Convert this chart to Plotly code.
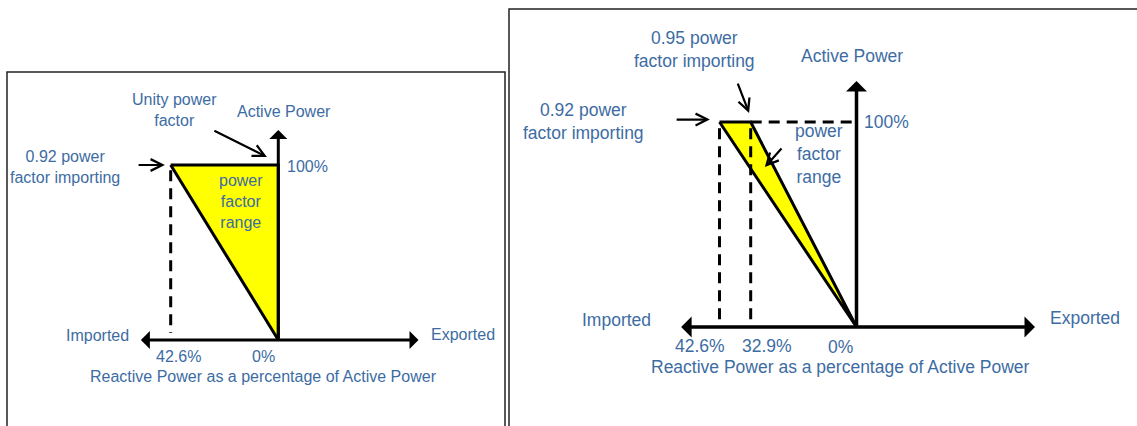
import plotly.graph_objects as go

# ---- data ----
# Left panel: unity to 0.92 power factor importing
left_tri_q = [-42.6, 0.0, 0.0]       # reactive power (% of active), negative = imported
left_tri_p = [100, 100, 0]           # active power %
left_dash_q = [-42.6]                # dashed projection lines
# Right panel: 0.95 to 0.92 power factor importing
right_tri_q = [-42.6, -32.9, 0.0]
right_tri_p = [100, 100, 0]
right_dash_q = [-42.6, -32.9]
left_ticks = ["42.6%", "0%"]
right_ticks = ["42.6%", "32.9%", "0%"]
axis_q_extent = [-55, 55.5]
axis_p_extent = 120

W, H = 1137, 426
TXT = "#3d6ca3"
FONT = "Liberation Sans, Arial, sans-serif"

fig = go.Figure()

def dom_x(p0, p1):
    return [p0 / W, min(p1 / W, 1.0)]

def dom_y(top, bottom):
    return [max((H - bottom) / H, 0.0), (H - top) / H]

# left axis: 0 at px 278.3, 2.526 px/unit ; y 0 at 340, 1.75 px/unit
Lx0, Lkx, Ly0, Lky = 278.3, 2.526, 340, 1.75
Lleft, Lright, Ltop, Lbot = 7, 505, 72, 426
# right axis
Rx0, Rkx, Ry0, Rky = 856.5, 3.216, 327, 2.05
Rleft, Rright, Rtop, Rbot = 509, 1137, 9, 426

fig.update_layout(
    width=W, height=H, margin=dict(l=0, r=0, t=0, b=0),
    paper_bgcolor="white", plot_bgcolor="rgba(0,0,0,0)", showlegend=False,
    xaxis=dict(domain=dom_x(Lleft, Lright), range=[(Lleft - Lx0) / Lkx, (Lright - Lx0) / Lkx],
               visible=False, fixedrange=True),
    yaxis=dict(domain=dom_y(Ltop, Lbot), range=[(Ly0 - Lbot) / Lky, (Ly0 - Ltop) / Lky],
               visible=False, fixedrange=True),
    xaxis2=dict(domain=dom_x(Rleft, Rright), range=[(Rleft - Rx0) / Rkx, (Rright - Rx0) / Rkx],
                visible=False, fixedrange=True, anchor="y2"),
    yaxis2=dict(domain=dom_y(Rtop, Rbot), range=[(Ry0 - Rbot) / Rky, (Ry0 - Rtop) / Rky],
                visible=False, fixedrange=True, anchor="x2"),
)

# triangles
fig.add_trace(go.Scatter(x=left_tri_q + [left_tri_q[0]], y=left_tri_p + [left_tri_p[0]],
                         fill="toself", fillcolor="#ffff00", mode="lines",
                         line=dict(color="black", width=3), xaxis="x", yaxis="y",
                         hoverinfo="skip"))
fig.add_trace(go.Scatter(x=right_tri_q + [right_tri_q[0]], y=right_tri_p + [right_tri_p[0]],
                         fill="toself", fillcolor="#ffff00", mode="lines",
                         line=dict(color="black", width=3), xaxis="x2", yaxis="y2",
                         hoverinfo="skip"))

# dashed projection lines
dash = "11px,7px"
for q in left_dash_q:
    fig.add_trace(go.Scatter(x=[q, q], y=[97, 4], mode="lines",
                             line=dict(color="black", width=3, dash=dash),
                             xaxis="x", yaxis="y", hoverinfo="skip"))
for q in right_dash_q:
    fig.add_trace(go.Scatter(x=[q, q], y=[97, 2], mode="lines",
                             line=dict(color="black", width=3, dash=dash),
                             xaxis="x2", yaxis="y2", hoverinfo="skip"))
fig.add_trace(go.Scatter(x=[right_tri_q[1], right_tri_q[2]], y=[100, 100], mode="lines",
                         line=dict(color="black", width=3, dash=dash),
                         xaxis="x2", yaxis="y2", hoverinfo="skip"))

ann = []

def axes_arrows(xr, yr, lw):
    ann.append(dict(x=axis_q_extent[1], y=0, ax=axis_q_extent[0], ay=0, xref=xr, yref=yr,
                    axref=xr, ayref=yr, text="", showarrow=True, arrowhead=1, startarrowhead=1,
                    arrowside="end+start", arrowsize=1, startarrowsize=1, arrowwidth=lw,
                    arrowcolor="black", standoff=0, startstandoff=0))
    ann.append(dict(x=0, y=axis_p_extent, ax=0, ay=0, xref=xr, yref=yr,
                    axref=xr, ayref=yr, text="", showarrow=True, arrowhead=1,
                    arrowsize=1, arrowwidth=lw, arrowcolor="black", standoff=0))

def pointer(xr, yr, tail, head):
    ann.append(dict(x=head[0], y=head[1], ax=tail[0], ay=tail[1], xref=xr, yref=yr,
                    axref=xr, ayref=yr, text="", showarrow=True, arrowhead=5,
                    arrowsize=1.05, arrowwidth=2.2, arrowcolor="black", standoff=0))

def label(xr, yr, x, y, text, size):
    ann.append(dict(x=x, y=y, xref=xr, yref=yr, text=text, showarrow=False,
                    xanchor="center", yanchor="middle",
                    font=dict(family=FONT, size=size, color=TXT)))

axes_arrows("x", "y", 3)
axes_arrows("x2", "y2", 3.5)

# left pointers
pointer("x", "y", (-25.9, 120), (-4.5, 104.6))
pointer("x", "y", (-55.9, 100), (-44.9, 100))
# right pointers
pointer("x2", "y2", (-56.4, 101.2), (-45.6, 101.2))
pointer("x2", "y2", (-37.1, 119.5), (-33.4, 104.4))
pointer("x2", "y2", (-22.9, 87.8), (-28.5, 78))

# left labels
fs = 16
label("x", "y", -40.9, 131.4, "Unity power<br>factor", fs)
label("x", "y", 2.3, 130.3, "Active Power", fs)
label("x", "y", -84.4, 99.1, "0.92 power<br>factor importing", fs)
label("x", "y", 11.4, 99.4, "100%", fs)
label("x", "y", -14.8, 78.9, "power<br>factor<br>range", fs)
label("x", "y", -71.4, 2.3, "Imported", fs)
label("x", "y", 73.1, 3.4, "Exported", fs)
label("x", "y", -39.7, -9.7, left_ticks[0], fs)
label("x", "y", -5.7, -9.7, left_ticks[1], fs)
label("x", "y", -5.7, -21.1, "Reactive Power as a percentage of Active Power", fs)

# right labels
fs2 = 17.5
label("x2", "y2", -50.5, 135.6, "0.95 power<br>factor importing", fs2)
label("x2", "y2", -1.4, 132.2, "Active Power", fs2)
label("x2", "y2", -85.0, 100, "0.92 power<br>factor importing", fs2)
label("x2", "y2", 9.2, 100, "100%", fs2)
label("x2", "y2", -11.7, 84.4, "power<br>factor<br>range", fs2)
label("x2", "y2", -74.5, 3.4, "Imported", fs2)
label("x2", "y2", 71.0, 4.4, "Exported", fs2)
label("x2", "y2", -48.7, -9.3, right_ticks[0], fs2)
label("x2", "y2", -27.8, -9.3, right_ticks[1], fs2)
label("x2", "y2", -5.1, -9.8, right_ticks[2], fs2)
label("x2", "y2", -5.1, -19.5, "Reactive Power as a percentage of Active Power", fs2)

fig.update_layout(annotations=ann)

# panel frames
fig.add_shape(type="rect", xref="paper", yref="paper",
              x0=Lleft / W, x1=Lright / W, y0=-0.2, y1=(H - Ltop) / H,
              line=dict(color="#222222", width=1.5), fillcolor="rgba(0,0,0,0)", layer="below")
fig.add_shape(type="rect", xref="paper", yref="paper",
              x0=Rleft / W, x1=1.2, y0=-0.2, y1=(H - Rtop) / H,
              line=dict(color="#222222", width=1.5), fillcolor="rgba(0,0,0,0)", layer="below")

fig.write_html("out.html", config={"displayModeBar": False},
               post_script="document.body.style.margin='0';document.body.style.overflow='hidden';")
